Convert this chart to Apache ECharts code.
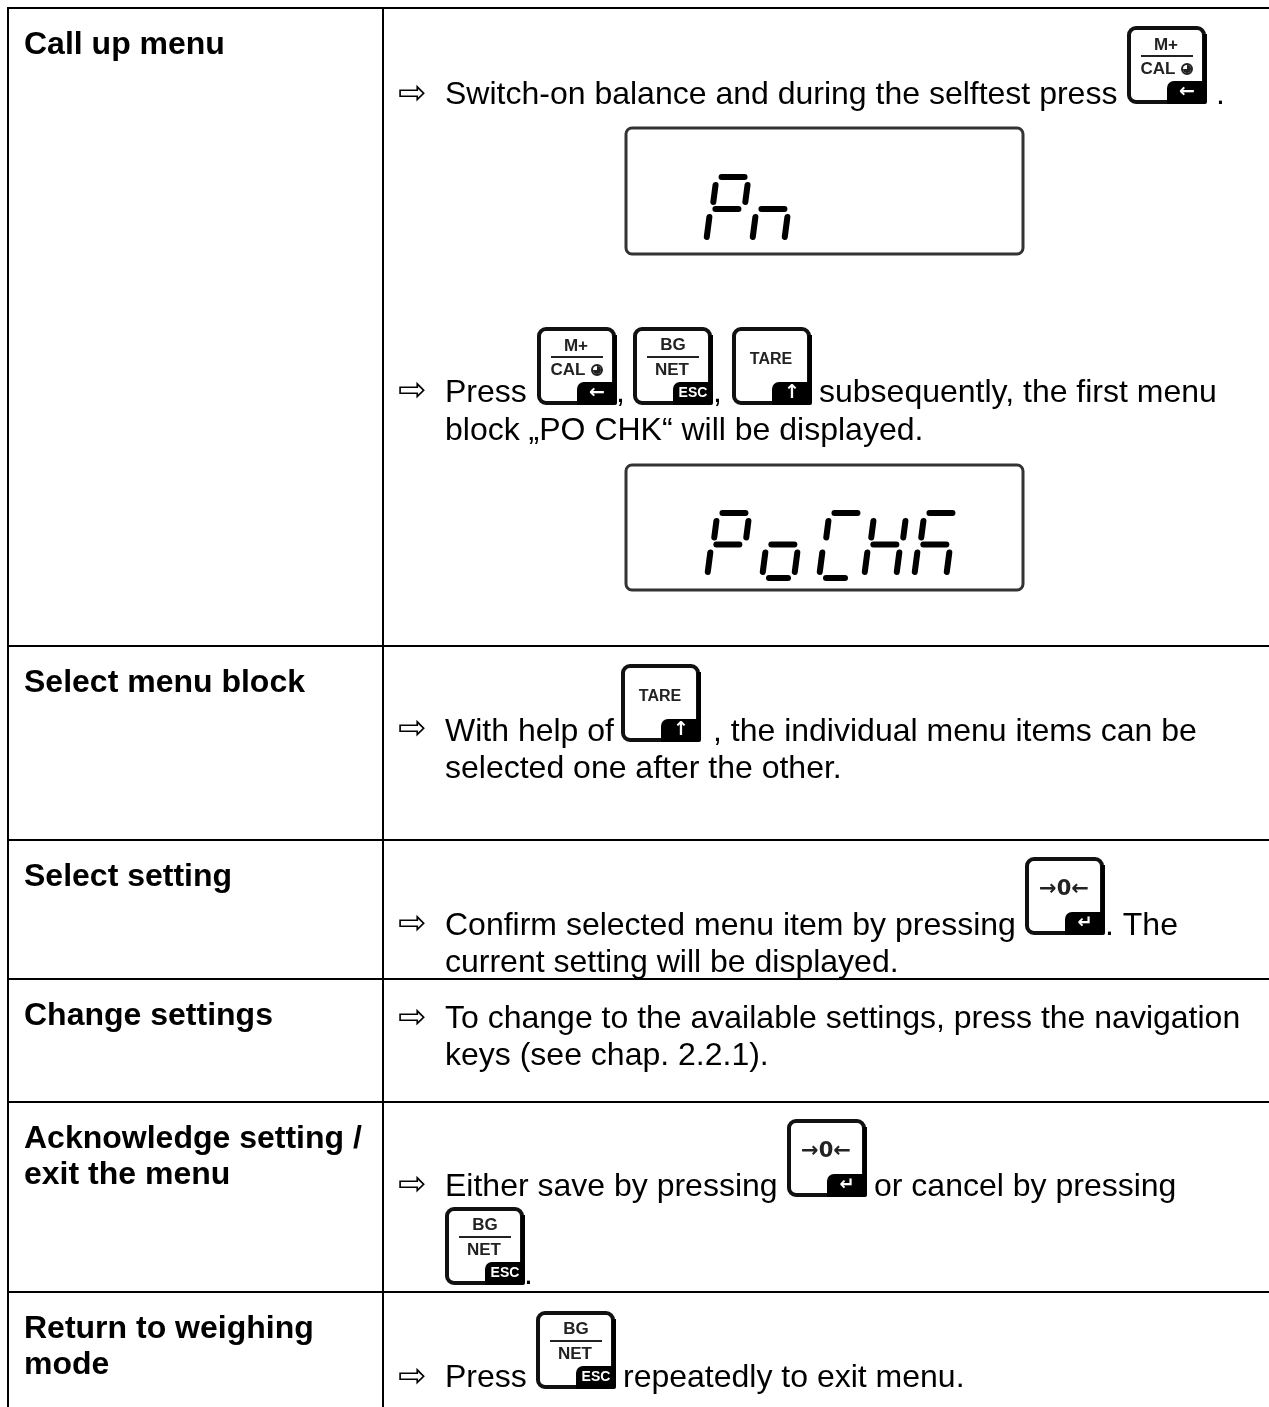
<!DOCTYPE html>
<html>
<head>
	<meta charset="utf-8">
	<title>Call up menu</title>
	<script type="text/javascript" src="https://cdn.jsdelivr.net/npm/echarts@6/dist/echarts.min.js"></script>
	<style>html,body{margin:0;padding:0;background:#fff}</style>
</head>
<body>
	<div id="main" style="width:1269px;height:1407px"></div>
	<script type="text/javascript">
// table text
var rowLabels = [
    ['Call up menu'],
    ['Select menu block'],
    ['Select setting'],
    ['Change settings'],
    ['Acknowledge setting /', 'exit the menu'],
    ['Return to weighing', 'mode']
];
var stepTexts = [
    'Switch-on balance and during the selftest press', '.',
    'Press', ',', ',', 'subsequently, the first menu', 'block „PO CHK“ will be displayed.',
    'With help of', ', the individual menu items can be', 'selected one after the other.',
    'Confirm selected menu item by pressing', '. The', 'current setting will be displayed.',
    'To change to the available settings, press the navigation', 'keys (see chap. 2.2.1).',
    'Either save by pressing', 'or cancel by pressing', '.',
    'Press', 'repeatedly to exit menu.'
];
var lcdWords = ['Pn', 'PoCHK'];
var keyNames = ['cal', 'cal', 'bg', 'tare', 'tare', 'zero', 'zero', 'bg', 'bg'];

// layout, y values are text baselines
var rowLines = [8, 646, 840, 979, 1102, 1292];
var labelBase = [[55], [693], [887], [1026], [1149, 1185], [1339, 1375]];
var stepPos = [
    [445, 105], [1216, 105],
    [445, 403], [616, 403], [713, 403], [819, 403], [445, 441],
    [445, 742], [713, 742], [445, 779],
    [445, 936], [1105, 936], [445, 973],
    [445, 1029], [445, 1066],
    [445, 1197], [874, 1197], [524, 1285],
    [445, 1388], [623, 1388]
];
var arrowY = [93, 390, 728, 923, 1017, 1184, 1376];
var keyPos = [[1127, 26], [537, 327], [633, 327], [732, 327], [621, 664], [1025, 857], [787, 1119], [445, 1207], [536, 1311]];
var lcdBoxes = [[626, 128, 397, 126], [626, 465, 397, 125]];
var lcdGlyphX = [[707, 753], [708, 763, 820, 865, 915]];
var lcdGlyphY = [[177, 243], [513, 578]];

var font = '"Liberation Sans", Arial, sans-serif';
var arrowFont = '"DejaVu Sans"';
var lcdSegments = {
    P: 'abefg',
    n: 'ceg',
    o: 'cdeg',
    C: 'adef',
    H: 'bcefg',
    K: 'acefg'
};

var graphics = [];

function addText(str, x, y, size, weight, family) {
    graphics.push({
        type: 'text',
        x: x,
        y: y,
        style: {
            text: str,
            fill: '#000',
            font: (weight || 'normal') + ' ' + size + 'px ' + (family || font),
            textAlign: 'left',
            textVerticalAlign: 'middle'
        }
    });
}
function addLine(x1, y1, x2, y2, width, color, round) {
    graphics.push({
        type: 'line',
        shape: {x1: x1, y1: y1, x2: x2, y2: y2},
        style: {stroke: color || '#000', lineWidth: width, lineCap: round ? 'round' : 'butt'}
    });
}

// one key button, 80 x 78
function addKey(name, x, y) {
    graphics.push({
        type: 'rect',
        shape: {x: x + 2, y: y + 2, width: 75, height: 74, r: 7},
        style: {fill: '#fff', stroke: '#111', lineWidth: 4}
    });
    addLine(x + 78, y + 8, x + 78, y + 76, 4, '#000');
    graphics.push({
        type: 'rect',
        shape: {x: x + 40, y: y + 55, width: 40, height: 23, r: [7, 0, 2, 0]},
        style: {fill: '#000'}
    });
    function label(str, cx, cy, size, family) {
        graphics.push({
            type: 'text',
            x: x + cx,
            y: y + cy,
            style: {
                text: str,
                fill: '#222',
                font: 'bold ' + size + 'px ' + (family || font),
                textAlign: 'center',
                textVerticalAlign: 'middle'
            }
        });
    }
    function corner(str, size, family) {
        graphics.push({
            type: 'text',
            x: x + 60,
            y: y + 66,
            style: {
                text: str,
                fill: '#fff',
                font: 'bold ' + size + 'px ' + (family || font),
                textAlign: 'center',
                textVerticalAlign: 'middle'
            }
        });
    }
    if (name === 'cal' || name === 'bg') {
        addLine(x + 14, y + 30, x + 66, y + 30, 2, '#222');
    }
    if (name === 'cal') {
        label('M+', 39, 19, 17);
        label('CAL', 31, 43, 17);
        graphics.push({
            type: 'circle',
            shape: {cx: x + 60, cy: y + 43, r: 5},
            style: {fill: '#fff', stroke: '#222', lineWidth: 2}
        });
        graphics.push({
            type: 'sector',
            shape: {cx: x + 60, cy: y + 43, r: 4, r0: 0, startAngle: -Math.PI / 2, endAngle: Math.PI},
            style: {fill: '#222'}
        });
        corner('←', 19, arrowFont);
    } else if (name === 'bg') {
        label('BG', 40, 18, 17);
        label('NET', 39, 43, 17);
        corner('ESC', 14);
    } else if (name === 'tare') {
        label('TARE', 39, 33, 16);
        corner('↑', 19, arrowFont);
    } else {
        label('→0←', 39, 33, 21, arrowFont);
        corner('↵', 18, arrowFont);
    }
}

// seven segment word for the balance display
function addLcdGlyph(ch, x, top, bottom) {
    var segs = lcdSegments[ch];
    var w = 30;
    var mid = (top + bottom) / 2 - 1;
    var skew = 0.13;
    function px(bx, y) {
        return x + bx + (bottom - y) * skew;
    }
    var map = {
        a: [[6, top], [w - 1, top]],
        g: [[4, mid], [w - 3, mid]],
        d: [[6, bottom], [w - 5, bottom]],
        f: [[1, top + 8], [1, mid - 7]],
        b: [[w + 3, top + 8], [w + 3, mid - 7]],
        e: [[-1, mid + 8], [-1, bottom - 6]],
        c: [[w + 1, mid + 8], [w + 1, bottom - 6]]
    };
    for (var i = 0; i < segs.length; i++) {
        var s = map[segs.charAt(i)];
        addLine(px(s[0][0], s[0][1]), s[0][1], px(s[1][0], s[1][1]), s[1][1], 6, '#000', true);
    }
}

// table frame
addLine(8, 8, 1269, 8, 2);
addLine(8, 7, 8, 1407, 2);
addLine(383, 7, 383, 1407, 2);
for (var r = 1; r < rowLines.length; r++) {
    addLine(8, rowLines[r], 1269, rowLines[r], 2);
}

rowLabels.forEach(function (lines, i) {
    lines.forEach(function (str, j) {
        addText(str, 24, labelBase[i][j] - 10, 32, 'bold');
    });
});

lcdBoxes.forEach(function (b, i) {
    graphics.push({
        type: 'rect',
        shape: {x: b[0], y: b[1], width: b[2], height: b[3], r: 6},
        style: {fill: '#fff', stroke: '#333', lineWidth: 3}
    });
    lcdWords[i].split('').forEach(function (ch, j) {
        addLcdGlyph(ch, lcdGlyphX[i][j], lcdGlyphY[i][0], lcdGlyphY[i][1]);
    });
});

keyNames.forEach(function (name, i) {
    addKey(name, keyPos[i][0], keyPos[i][1]);
});

stepTexts.forEach(function (str, i) {
    addText(str, stepPos[i][0], stepPos[i][1] - 10, 32);
});
arrowY.forEach(function (y) {
    addText('⇨', 398, y + 2, 34, 'normal', arrowFont);
});

var myChart = echarts.init(document.getElementById('main'), null, {renderer: 'canvas'});
myChart.setOption({
    backgroundColor: '#fff',
    animation: false,
    graphic: {elements: graphics}
});
	</script>
</body>
</html>
